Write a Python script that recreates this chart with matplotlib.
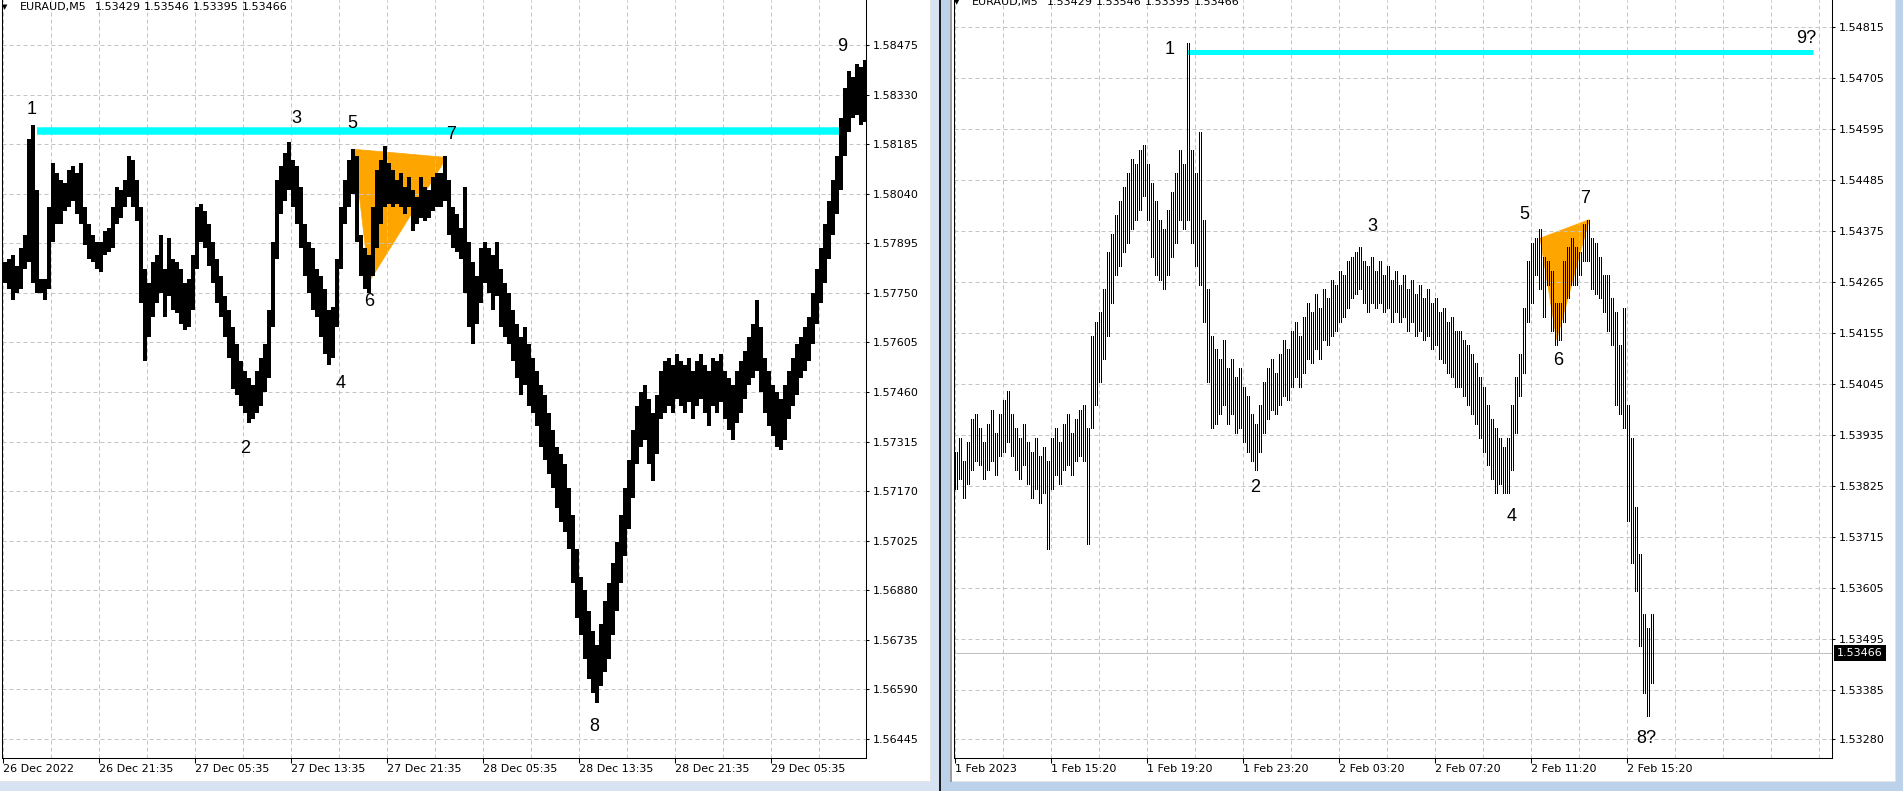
import numpy as np
import matplotlib.pyplot as plt
from matplotlib.patches import Polygon, Rectangle

plt.rcParams['font.family'] = 'DejaVu Sans'

symbol = 'EURAUD,M5'
quote = ['1.53429', '1.53546', '1.53395', '1.53466']   # open, high, low, close of last bar

# ---------- left chart: EURAUD M5, 26-29 Dec 2022 (high/low of 4-bar blocks)
left_block = 4
left_high = [
    1.5784, 1.5785, 1.5786, 1.5783, 1.5788, 1.5792, 1.5820, 1.5824, 1.5805, 1.5779, 1.5779, 1.5800,
    1.5813, 1.5810, 1.5808, 1.5807, 1.5811, 1.5812, 1.5810, 1.5813, 1.5800, 1.5795, 1.5792, 1.5790,
    1.5790, 1.5793, 1.5794, 1.5800, 1.5806, 1.5805, 1.5808, 1.5815, 1.5814, 1.5808, 1.5800, 1.5782,
    1.5778, 1.5784, 1.5786, 1.5792, 1.5782, 1.5791, 1.5785, 1.5784, 1.5782, 1.5778, 1.5779, 1.5786,
    1.5800, 1.5801, 1.5799, 1.5795, 1.5790, 1.5785, 1.5780, 1.5774, 1.5770, 1.5765, 1.5760, 1.5755,
    1.5752, 1.5750, 1.5748, 1.5752, 1.5756, 1.5760, 1.5770, 1.5790, 1.5808, 1.5812, 1.5816, 1.5819,
    1.5814, 1.5812, 1.5806, 1.5795, 1.5790, 1.5788, 1.5782, 1.5780, 1.5776, 1.5770, 1.5771, 1.5785,
    1.5800, 1.5808, 1.5814, 1.5817, 1.5815, 1.5792, 1.5788, 1.5786, 1.5800, 1.5811, 1.5814, 1.5818,
    1.5813, 1.5811, 1.5808, 1.5810, 1.5806, 1.5809, 1.5805, 1.5803, 1.5809, 1.5806, 1.5805, 1.5809,
    1.5810, 1.5810, 1.5815, 1.5808, 1.5800, 1.5798, 1.5794, 1.5806, 1.5790, 1.5784, 1.5780, 1.5788,
    1.5790, 1.5788, 1.5786, 1.5790, 1.5782, 1.5778, 1.5775, 1.5770, 1.5766, 1.5762, 1.5765, 1.5760,
    1.5756, 1.5752, 1.5748, 1.5745, 1.5740, 1.5735, 1.5730, 1.5728, 1.5725, 1.5718, 1.5710, 1.5700,
    1.5692, 1.5688, 1.5682, 1.5676, 1.5672, 1.5678, 1.5685, 1.5690, 1.5696, 1.5702, 1.5710, 1.5718,
    1.5726, 1.5735, 1.5742, 1.5746, 1.5748, 1.5744, 1.5740, 1.5745, 1.5752, 1.5755, 1.5756, 1.5754,
    1.5757, 1.5755, 1.5754, 1.5756, 1.5752, 1.5755, 1.5757, 1.5754, 1.5752, 1.5756, 1.5755, 1.5757,
    1.5752, 1.5750, 1.5748, 1.5752, 1.5755, 1.5758, 1.5762, 1.5766, 1.5773, 1.5765, 1.5756, 1.5752,
    1.5748, 1.5746, 1.5744, 1.5748, 1.5752, 1.5756, 1.5760, 1.5762, 1.5765, 1.5768, 1.5775, 1.5782,
    1.5788, 1.5795, 1.5802, 1.5808, 1.5815, 1.5826, 1.5835, 1.5840, 1.5838, 1.5842, 1.5841, 1.5843,
]
left_low = [
    1.5778, 1.5776, 1.5773, 1.5775, 1.5776, 1.5782, 1.5784, 1.5778, 1.5775, 1.5775, 1.5773, 1.5776,
    1.5790, 1.5795, 1.5795, 1.5799, 1.5800, 1.5802, 1.5798, 1.5795, 1.5789, 1.5785, 1.5784, 1.5782,
    1.5781, 1.5786, 1.5787, 1.5788, 1.5795, 1.5797, 1.5800, 1.5803, 1.5800, 1.5796, 1.5772, 1.5755,
    1.5762, 1.5768, 1.5772, 1.5775, 1.5768, 1.5774, 1.5770, 1.5769, 1.5766, 1.5764, 1.5765, 1.5770,
    1.5782, 1.5790, 1.5788, 1.5783, 1.5778, 1.5772, 1.5768, 1.5762, 1.5756, 1.5747, 1.5745, 1.5742,
    1.5740, 1.5737, 1.5738, 1.5740, 1.5742, 1.5746, 1.5750, 1.5765, 1.5785, 1.5798, 1.5802, 1.5805,
    1.5800, 1.5795, 1.5788, 1.5780, 1.5775, 1.5770, 1.5768, 1.5762, 1.5757, 1.5754, 1.5756, 1.5765,
    1.5782, 1.5795, 1.5800, 1.5804, 1.5790, 1.5780, 1.5776, 1.5775, 1.5780, 1.5788, 1.5795, 1.5800,
    1.5801, 1.5800, 1.5801, 1.5800, 1.5798, 1.5800, 1.5793, 1.5795, 1.5797, 1.5796, 1.5797, 1.5799,
    1.5800, 1.5800, 1.5802, 1.5792, 1.5788, 1.5787, 1.5785, 1.5775, 1.5765, 1.5760, 1.5766, 1.5772,
    1.5778, 1.5775, 1.5770, 1.5774, 1.5765, 1.5762, 1.5760, 1.5755, 1.5750, 1.5745, 1.5748, 1.5742,
    1.5740, 1.5736, 1.5730, 1.5726, 1.5722, 1.5718, 1.5712, 1.5708, 1.5705, 1.5700, 1.5690, 1.5680,
    1.5675, 1.5668, 1.5662, 1.5658, 1.5655, 1.5660, 1.5664, 1.5668, 1.5675, 1.5682, 1.5690, 1.5698,
    1.5706, 1.5715, 1.5725, 1.5730, 1.5732, 1.5725, 1.5720, 1.5728, 1.5738, 1.5740, 1.5742, 1.5740,
    1.5744, 1.5742, 1.5740, 1.5743, 1.5738, 1.5742, 1.5744, 1.5740, 1.5736, 1.5742, 1.5740, 1.5743,
    1.5738, 1.5735, 1.5732, 1.5737, 1.5740, 1.5744, 1.5748, 1.5750, 1.5752, 1.5746, 1.5740, 1.5736,
    1.5733, 1.5730, 1.5729, 1.5732, 1.5738, 1.5742, 1.5745, 1.5750, 1.5752, 1.5755, 1.5760, 1.5766,
    1.5772, 1.5778, 1.5785, 1.5792, 1.5798, 1.5805, 1.5815, 1.5822, 1.5826, 1.5827, 1.5824, 1.5825,
]
left_xlabels = ['26 Dec 2022', '26 Dec 21:35', '27 Dec 05:35', '27 Dec 13:35', '27 Dec 21:35',
                '28 Dec 05:35', '28 Dec 13:35', '28 Dec 21:35', '29 Dec 05:35']
left_label_every = 96   # bars between time labels
left_yticks = ['1.56445', '1.56590', '1.56735', '1.56880', '1.57025', '1.57170', '1.57315', '1.57460',
               '1.57605', '1.57750', '1.57895', '1.58040', '1.58185', '1.58330', '1.58475']
left_level = 1.58224
left_level_bars = [34, 843]
left_tri_x = [351, 366.3, 443.7]
left_tri_y = [1.58170, 1.57783, 1.58146]
left_wave = ['1', '2', '3', '4', '5', '6', '7', '8', '9']
left_wave_x = [28.7, 242.2, 293.1, 338, 349, 366, 448.5, 591.7, 839.3]
left_wave_y = [1.58285, 1.57294, 1.58259, 1.57486, 1.58245, 1.57724, 1.58213, 1.56482, 1.58472]

# ---------- right chart: EURAUD M5, 1-2 Feb 2023 (high/low of 2-bar blocks)
right_block = 2
right_high = [
    1.5390, 1.5393, 1.5388, 1.5392, 1.5397, 1.5398, 1.5395, 1.5392, 1.5396, 1.5399, 1.5394, 1.5398,
    1.5401, 1.5403, 1.5398, 1.5395, 1.5393, 1.5396, 1.5392, 1.5390, 1.5393, 1.5389, 1.5391, 1.5388,
    1.5393, 1.5395, 1.5392, 1.5396, 1.5398, 1.5394, 1.5397, 1.5399, 1.5400, 1.5395, 1.5415, 1.5418,
    1.5420, 1.5425, 1.5433, 1.5437, 1.5441, 1.5444, 1.5447, 1.5450, 1.5453, 1.5452, 1.5455, 1.5456,
    1.5452, 1.5448, 1.5444, 1.5440, 1.5438, 1.5442, 1.5446, 1.5450, 1.5455, 1.5452, 1.5478, 1.5455,
    1.5450, 1.5459, 1.5440, 1.5425, 1.5415, 1.5412, 1.5410, 1.5414, 1.5408, 1.5410, 1.5406, 1.5408,
    1.5404, 1.5402, 1.5398, 1.5396, 1.5400, 1.5405, 1.5408, 1.5410, 1.5407, 1.5411, 1.5414, 1.5412,
    1.5416, 1.5418, 1.5415, 1.5419, 1.5422, 1.5420, 1.5424, 1.5421, 1.5425, 1.5423, 1.5427, 1.5426,
    1.5429, 1.5428, 1.5431, 1.5432, 1.5433, 1.5434, 1.5431, 1.5430, 1.5432, 1.5429, 1.5431, 1.5428,
    1.5430, 1.5427, 1.5429, 1.5426, 1.5428, 1.5425, 1.5427, 1.5424, 1.5426, 1.5423, 1.5425, 1.5422,
    1.5423, 1.5420, 1.5421, 1.5418, 1.5419, 1.5416, 1.5416, 1.5414, 1.5413, 1.5411, 1.5409, 1.5406,
    1.5404, 1.5400, 1.5397, 1.5395, 1.5393, 1.5391, 1.5393, 1.5400, 1.5406, 1.5411, 1.5421, 1.5431,
    1.5435, 1.5436, 1.5438, 1.5432, 1.5431, 1.5429, 1.5422, 1.5422, 1.5431, 1.5434, 1.5436, 1.5434,
    1.5433, 1.5439, 1.5440, 1.5436, 1.5435, 1.5432, 1.5428, 1.5428, 1.5423, 1.5420, 1.5413, 1.5421,
    1.5400, 1.5393, 1.5378, 1.5368, 1.5355, 1.5352, 1.5355,
]
right_low = [
    1.5382, 1.5384, 1.5380, 1.5383, 1.5386, 1.5388, 1.5387, 1.5384, 1.5386, 1.5388, 1.5385, 1.5389,
    1.5390, 1.5392, 1.5389, 1.5386, 1.5384, 1.5387, 1.5383, 1.5380, 1.5382, 1.5379, 1.5381, 1.5369,
    1.5382, 1.5385, 1.5383, 1.5386, 1.5387, 1.5385, 1.5388, 1.5389, 1.5388, 1.5370, 1.5395, 1.5400,
    1.5405, 1.5410, 1.5415, 1.5422, 1.5428, 1.5430, 1.5433, 1.5435, 1.5438, 1.5440, 1.5442, 1.5445,
    1.5440, 1.5432, 1.5428, 1.5427, 1.5425, 1.5428, 1.5432, 1.5435, 1.5440, 1.5438, 1.5440, 1.5435,
    1.5430, 1.5426, 1.5418, 1.5405, 1.5395, 1.5396, 1.5398, 1.5400, 1.5396, 1.5398, 1.5394, 1.5395,
    1.5392, 1.5390, 1.5388, 1.5386, 1.5390, 1.5394, 1.5397, 1.5399, 1.5398, 1.5400, 1.5402, 1.5401,
    1.5404, 1.5406, 1.5404, 1.5407, 1.5410, 1.5409, 1.5412, 1.5410, 1.5414, 1.5413, 1.5415, 1.5416,
    1.5418, 1.5419, 1.5421, 1.5423, 1.5424, 1.5425, 1.5422, 1.5420, 1.5422, 1.5421, 1.5422, 1.5420,
    1.5421, 1.5418, 1.5420, 1.5418, 1.5419, 1.5416, 1.5418, 1.5415, 1.5416, 1.5414, 1.5415, 1.5412,
    1.5413, 1.5410, 1.5409, 1.5407, 1.5406, 1.5404, 1.5404, 1.5402, 1.5400, 1.5398, 1.5396, 1.5393,
    1.5390, 1.5387, 1.5384, 1.5381, 1.5383, 1.5381, 1.5381, 1.5386, 1.5394, 1.5402, 1.5407, 1.5418,
    1.5422, 1.5428, 1.5425, 1.5419, 1.5426, 1.5416, 1.5413, 1.5414, 1.5418, 1.5423, 1.5426, 1.5426,
    1.5428, 1.5431, 1.5431, 1.5425, 1.5424, 1.5423, 1.5420, 1.5416, 1.5413, 1.5400, 1.5398, 1.5395,
    1.5375, 1.5366, 1.5360, 1.5348, 1.5338, 1.5333, 1.5340,
]
right_xlabels = ['1 Feb 2023', '1 Feb 15:20', '1 Feb 19:20', '1 Feb 23:20', '2 Feb 03:20',
                 '2 Feb 07:20', '2 Feb 11:20', '2 Feb 15:20']
right_label_every = 48
right_yticks = ['1.53280', '1.53385', '1.53495', '1.53605', '1.53715', '1.53825', '1.53935', '1.54045',
                '1.54155', '1.54265', '1.54375', '1.54485', '1.54595', '1.54705', '1.54815']
right_last = 1.53466
right_level = 1.54762
right_level_bars = [116, 429]
right_tri_x = [292.7, 301, 317.3]
right_tri_y = [1.54360, 1.54141, 1.54400]
right_wave = ['1', '2', '3', '4', '5', '6', '7', '8?', '9?']
right_wave_x = [107.6, 150.2, 209, 278.7, 284.9, 301.9, 315.2, 345.6, 425.6]
right_wave_y = [1.54766, 1.53822, 1.54385, 1.53760, 1.54411, 1.54097, 1.54445, 1.53282, 1.54790]

W, H = 1903, 791
fig = plt.figure(figsize=(W / 100, H / 100), dpi=100)


def frac(x0, y0, x1, y1):
    # pixel box measured from the top left -> figure fractions
    return [x0 / W, 1 - y1 / H, (x1 - x0) / W, (y1 - y0) / H]


def box(x0, y0, x1, y1, color):
    l, b, w, h = frac(x0, y0, x1, y1)
    fig.add_artist(Rectangle((l, b), w, h, transform=fig.transFigure, color=color, lw=0, zorder=0))


# terminal window frames
box(0, 781, 931, 782, '#e4e4e4')
box(0, 782, 931, 791, '#d7e3f2')
box(930, 0, 931, 782, '#e4e4e4')
box(931, 0, 938.5, 791, '#d7e3f2')
box(938.5, 0, 940.5, 791, '#1e1e1e')
box(940.5, 0, 950, 791, '#bcd2eb')
box(950, 0, 951.5, 782, '#9c9c9c')
box(951.5, 781, 1895, 782, '#e4e4e4')
box(950, 782, 1903, 791, '#bcd2eb')
box(1895, 0, 1896, 782, '#e4e4e4')
box(1896, 0, 1903, 791, '#bcd2eb')

grid_kw = dict(color='#c4c4c4', lw=0.72, linestyle=(0, (4, 3)))


def setup(ax, xlim, ylim, yticks, xlabels, every, grid_end):
    ax.set_xlim(*xlim)
    ax.set_ylim(*ylim)
    ax.set_axisbelow(True)
    ax.spines['top'].set_visible(False)
    for s in ['left', 'right', 'bottom']:
        ax.spines[s].set_linewidth(0.75)
    ax.yaxis.tick_right()
    ax.set_yticks([float(t) for t in yticks])
    ax.set_yticklabels(yticks)
    ax.set_xticks(np.arange(len(xlabels)) * every)
    ax.set_xticklabels(xlabels)
    ax.set_xticks(np.arange(every // 2, grid_end + 1, every // 2), minor=True)
    for t in ax.get_xticklabels():
        t.set_ha('left')
    ax.tick_params(axis='y', direction='out', length=2.5, width=0.75, pad=2.5, labelsize=8)
    ax.tick_params(axis='x', which='major', direction='out', length=3.6, width=0.75, pad=0.5, labelsize=8)
    ax.tick_params(axis='x', which='minor', length=0)
    ax.grid(True, which='both', axis='x', **grid_kw)
    ax.grid(True, which='major', axis='y', **grid_kw)


def waves(ax, labels, xs, ys):
    for t, x, y in zip(labels, xs, ys):
        ax.text(x, y, t, ha='center', va='center', fontsize=13, family='Liberation Sans', zorder=4)


# ---------- left panel
axL = fig.add_axes(frac(1.5, 0, 865.7, 758))
setup(axL, (-1.5, 862.7), (1.563895, 1.586066), left_yticks, left_xlabels, left_label_every, 816)
axL.add_patch(Polygon(list(zip(left_tri_x, left_tri_y)), closed=True, fc='#ffa500', ec='#ffa500',
                      lw=0.5, zorder=0.3))
axL.plot(left_level_bars, [left_level, left_level], color='#00ffff', lw=5.4, solid_capstyle='butt', zorder=1)
xl = np.arange(len(left_high)) * left_block + (left_block - 1) / 2
axL.bar(xl, np.subtract(left_high, left_low), bottom=left_low, width=left_block,
        color='black', lw=0, zorder=3)
waves(axL, left_wave, left_wave_x, left_wave_y)

# ---------- right panel
axR = fig.add_axes(frac(954, 0, 1832, 758))
setup(axR, (-0.35, 438.65), (1.532391, 1.548736), right_yticks, right_xlabels, right_label_every, 432)
axR.add_patch(Polygon(list(zip(right_tri_x, right_tri_y)), closed=True, fc='#ffa500', ec='#ffa500',
                      lw=0.5, zorder=0.3))
axR.axhline(right_last, color='#c0c0c0', lw=0.75, zorder=0.8)
axR.plot(right_level_bars, [right_level, right_level], color='#00ffff', lw=3.6, solid_capstyle='butt', zorder=1)
xr = np.arange(len(right_high) * right_block)
axR.vlines(xr, np.repeat(right_low, right_block), np.repeat(right_high, right_block),
           colors='black', lw=0.5, antialiased=False, zorder=3)
waves(axR, right_wave, right_wave_x, right_wave_y)
axR.annotate(f'{right_last:.5f}', xy=(1, right_last), xycoords=('axes fraction', 'data'),
             xytext=(5, 0), textcoords='offset pixels', ha='left', va='center', fontsize=8,
             color='white', annotation_clip=False,
             bbox=dict(boxstyle='square,pad=0.25', fc='black', ec='none'))

# chart headers: arrow, symbol, then the four quotes about 50 px apart
for x0, y in [(0, 7), (952, 2)]:
    fig.text((x0 + 4.5) / W, 1 - y / H, '\u25bc', fontsize=5, ha='center', va='center')
    fig.text((x0 + 20) / W, 1 - y / H, symbol, fontsize=8, ha='left', va='center')
    for i, q in enumerate(quote):
        fig.text((x0 + 95 + 49 * i) / W, 1 - y / H, q, fontsize=8, ha='left', va='center')

fig.savefig('out.png', dpi=100)
